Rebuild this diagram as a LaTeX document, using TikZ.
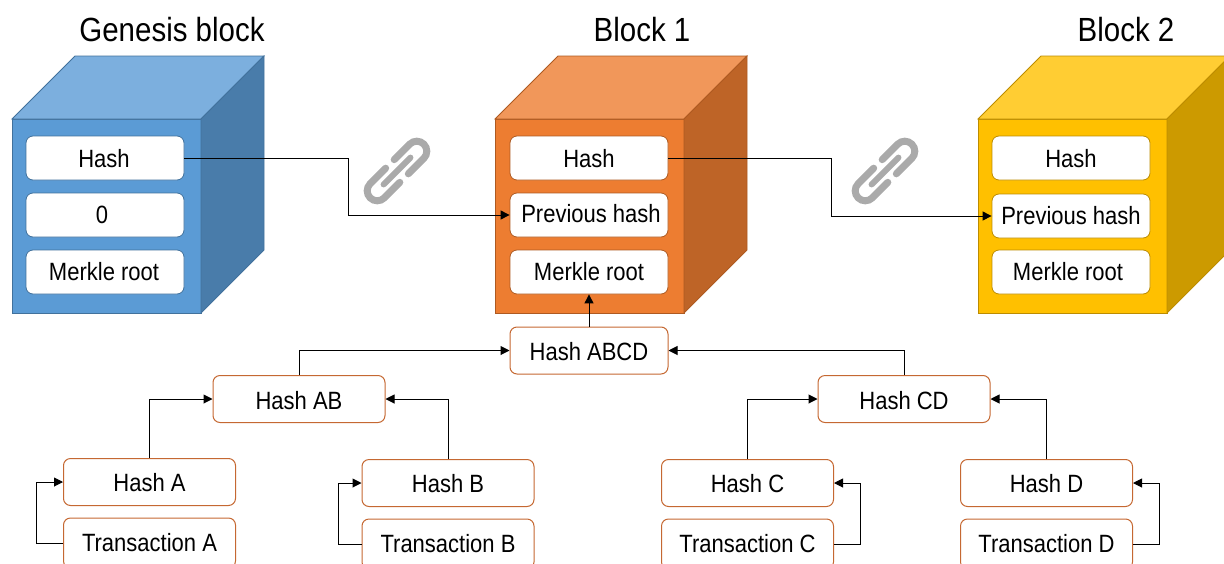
\documentclass[tikz,border=0pt]{standalone}
\usepackage{fontspec}
\setmainfont[FakeStretch=0.88]{Liberation Sans}
\usetikzlibrary{arrows.meta}
\definecolor{blockcolor0000}{RGB}{91,155,213}
\definecolor{blockcolor0001}{RGB}{124,175,222}
\definecolor{blockcolor0002}{RGB}{73,124,170}
\definecolor{blockcolor0003}{RGB}{65,113,156}
\definecolor{blockcolor0004}{RGB}{237,125,49}
\definecolor{blockcolor0005}{RGB}{241,151,90}
\definecolor{blockcolor0006}{RGB}{190,100,39}
\definecolor{blockcolor0007}{RGB}{174,90,33}
\definecolor{blockcolor0008}{RGB}{255,192,0}
\definecolor{blockcolor0009}{RGB}{255,205,51}
\definecolor{blockcolor0010}{RGB}{204,154,0}
\definecolor{blockcolor0011}{RGB}{188,140,0}
\definecolor{blockcolor0012}{RGB}{197,104,50}
\definecolor{blockcolor0013}{RGB}{170,170,170}
\begin{document}
\begin{tikzpicture}[yscale=-1
,titlestyle/.style={font=\fontsize{33.5pt}{36pt}\selectfont,color=black}
,fieldstyle/.style={draw,fill=white,rounded corners=7pt,line width=0.8pt,minimum width=158pt,minimum height=44pt,inner sep=0pt,font=\fontsize{25pt}{28pt}\selectfont,text=black,text height=17pt,text depth=0pt}
,merklestyle/.style={draw=blockcolor0012,fill=white,rounded corners=7pt,line width=1pt,minimum width=172pt,minimum height=47pt,inner sep=0pt,font=\fontsize{25pt}{28pt}\selectfont,text=black,text height=18pt,text depth=0pt}
,linkstyle/.style={color=black,line width=1pt,-{Triangle[length=9pt,width=9pt]}}
,chainicon/.pic={
\draw[color=blockcolor0013,line width=7pt,line cap=round] (6pt,10pt) -- (28pt,10pt) arc (90:-90:10pt) -- (6pt,-10pt);
\draw[color=blockcolor0013,line width=7pt,line cap=round] (-6pt,10pt) -- (-28pt,10pt) arc (90:270:10pt) -- (-6pt,-10pt);
\draw[color=blockcolor0013,line width=6pt,line cap=round] (-19pt,0pt) -- (19pt,0pt);
}
]
\useasboundingbox (0pt,0pt) rectangle (1224pt,563pt);
\node (gtitle) at (172pt,30pt)[titlestyle]{Genesis block};
\node (atitle) at (642pt,30pt)[titlestyle]{Block 1};
\node (btitle) at (1126pt,30pt)[titlestyle]{Block 2};
\draw[color=blockcolor0003,fill=blockcolor0000,line width=0.8pt] (12pt,119pt) rectangle (201pt,313pt);
\draw[color=blockcolor0003,fill=blockcolor0001,line width=0.8pt] (12pt,119pt) -- (75pt,56pt) -- (264pt,56pt) -- (201pt,119pt) -- cycle;
\draw[color=blockcolor0003,fill=blockcolor0002,line width=0.8pt] (201pt,119pt) -- (264pt,56pt) -- (264pt,250pt) -- (201pt,313pt) -- cycle;
\draw[color=blockcolor0007,fill=blockcolor0004,line width=0.8pt] (495pt,119pt) rectangle (684pt,313pt);
\draw[color=blockcolor0007,fill=blockcolor0005,line width=0.8pt] (495pt,119pt) -- (558pt,56pt) -- (747pt,56pt) -- (684pt,119pt) -- cycle;
\draw[color=blockcolor0007,fill=blockcolor0006,line width=0.8pt] (684pt,119pt) -- (747pt,56pt) -- (747pt,250pt) -- (684pt,313pt) -- cycle;
\draw[color=blockcolor0011,fill=blockcolor0008,line width=0.8pt] (978pt,119pt) rectangle (1167pt,313pt);
\draw[color=blockcolor0011,fill=blockcolor0009,line width=0.8pt] (978pt,119pt) -- (1041pt,56pt) -- (1230pt,56pt) -- (1167pt,119pt) -- cycle;
\draw[color=blockcolor0011,fill=blockcolor0010,line width=0.8pt] (1167pt,119pt) -- (1230pt,56pt) -- (1230pt,250pt) -- (1167pt,313pt) -- cycle;
\node (ghash) at (105pt,158pt)[fieldstyle,draw=blockcolor0003,text height=18pt]{\hspace*{-2pt}Hash};
\node (gzero) at (105pt,215pt)[fieldstyle,draw=blockcolor0003]{\hspace*{-6pt}0};
\node (groot) at (105pt,272pt)[fieldstyle,draw=blockcolor0003]{\hspace*{-2pt}Merkle root};
\node (ahash) at (589pt,158pt)[fieldstyle,draw=blockcolor0007,text height=18pt]{Hash};
\node (aprev) at (589pt,215pt)[fieldstyle,draw=blockcolor0007,text height=15pt]{\hspace*{4pt}Previous hash};
\node (aroot) at (589pt,272pt)[fieldstyle,draw=blockcolor0007]{Merkle root};
\node (bhash) at (1071pt,158pt)[fieldstyle,draw=blockcolor0011,text height=18pt]{Hash};
\node (bprev) at (1071pt,216pt)[fieldstyle,draw=blockcolor0011]{Previous hash};
\node (broot) at (1071pt,272pt)[fieldstyle,draw=blockcolor0011]{\hspace*{-6pt}Merkle root};
\node (habcd) at (589pt,350.5pt)[merklestyle,minimum width=158pt,text height=20pt]{Hash ABCD};
\node (hab) at (299pt,399pt)[merklestyle,text height=20pt]{Hash AB};
\node (hcd) at (904pt,399pt)[merklestyle,text height=20pt]{Hash CD};
\node (ha) at (149.5pt,482pt)[merklestyle]{Hash A};
\node (hb) at (448pt,483pt)[merklestyle]{Hash B};
\node (hc) at (747.5pt,483pt)[merklestyle]{Hash C};
\node (hd) at (1046.5pt,483pt)[merklestyle]{Hash D};
\node (ta) at (149.5pt,543pt)[merklestyle,minimum height=50pt,text height=16pt]{Transaction A};
\node (tb) at (448pt,544pt)[merklestyle,minimum height=50pt,text height=16pt]{Transaction B};
\node (tc) at (747.5pt,544pt)[merklestyle,minimum height=50pt,text height=16pt]{Transaction C};
\node (td) at (1046.5pt,544pt)[merklestyle,minimum height=50pt,text height=16pt]{Transaction D};
\coordinate (gbend) at (348pt,158pt);
\coordinate (abend) at (831pt,158pt);
\coordinate (tabend) at (36pt,543pt);
\coordinate (tbbend) at (338pt,544pt);
\coordinate (tcbend) at (860pt,544pt);
\coordinate (tdbend) at (1159pt,544pt);
\draw[linkstyle] (ghash.east) -- (gbend) |- (aprev.west);
\draw[linkstyle] (ahash.east) -- (abend) |- (bprev.west);
\draw[linkstyle] (habcd.north) -- (aroot.south);
\draw[linkstyle] (hab.north) |- (habcd.west);
\draw[linkstyle] (hcd.north) |- (habcd.east);
\draw[linkstyle] (ha.north) |- (hab.west);
\draw[linkstyle] (hb.north) |- (hab.east);
\draw[linkstyle] (hc.north) |- (hcd.west);
\draw[linkstyle] (hd.north) |- (hcd.east);
\draw[linkstyle] (ta.west) -- (tabend) |- (ha.west);
\draw[linkstyle] (tb.west) -- (tbbend) |- (hb.west);
\draw[linkstyle] (tc.east) -- (tcbend) |- (hc.east);
\draw[linkstyle] (td.east) -- (tdbend) |- (hd.east);
\pic[rotate=45] at (397pt,171pt) {chainicon};
\pic[rotate=45] at (885pt,171pt) {chainicon};
\end{tikzpicture}
\end{document}
